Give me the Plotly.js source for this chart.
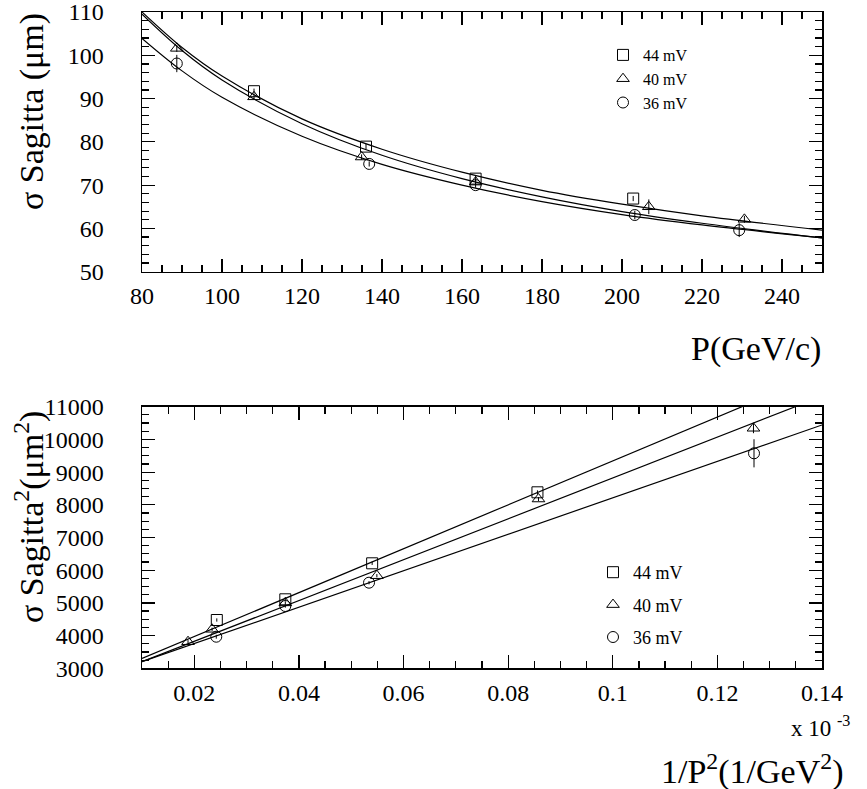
<!DOCTYPE html>
<html>
<head>
<meta charset="utf-8">
<script src="https://cdn.plot.ly/plotly-3.0.1.min.js"></script>
<style>html,body{margin:0;padding:0;background:#fff;}#plot{width:867px;height:789px;}</style>
</head>
<body>
<div id="plot"></div>
<script>
// ---- Top panel: sigma Sagitta vs P ----
const seriesNames = ['44 mV', '40 mV', '36 mV'];
const P44 = [108, 136, 163.4, 202.8];
const S44 = [91.7, 78.9, 71.5, 66.9];
const E44 = [0.6, 0.6, 0.6, 0.6];
const P40 = [88.7, 108, 134.9, 163.4, 206.7, 230.6];
const S40 = [101.6, 90.4, 76.5, 70.7, 65.0, 62.1];
const E40 = [0.8, 0.6, 0.6, 0.6, 1.7, 0.8];
const P36 = [88.7, 136.8, 163.4, 203.2, 229.3];
const S36 = [98.1, 74.9, 70.0, 63.1, 59.6];
const E36 = [2.0, 0.6, 0.6, 1.0, 1.6];
// fit curves
const curveP = [80, 90, 100, 120, 140, 160, 180, 200, 220, 250];
const curve44 = [110.0, 101.8, 95.2, 85.3, 78.3, 73.0, 68.8, 65.6, 62.9, 59.6];
const curve40 = [109.5, 101.1, 94.3, 84.2, 76.9, 71.5, 67.3, 63.9, 61.2, 57.8];
const curve36 = [103.9, 96.4, 90.3, 81.3, 74.8, 70.0, 66.2, 63.2, 60.8, 57.8];

// ---- Bottom panel: sigma Sagitta^2 vs 1/P^2 (x 10^-3) ----
const X44 = [0.0243, 0.0374, 0.0540, 0.0856];
const V44 = [4477, 5110, 6211, 8382];
const VE44 = [50, 50, 50, 60];
const X40 = [0.0188, 0.0234, 0.0374, 0.0549, 0.0858, 0.1269];
const V40 = [3813, 4193, 5000, 5832, 8177, 10340];
const VE40 = [50, 50, 50, 50, 60, 150];
const X36 = [0.0242, 0.0374, 0.0534, 0.1270];
const V36 = [3966, 4905, 5618, 9575];
const VE36 = [60, 50, 50, 430];
const lineX = [0.01, 0.14];
const line44 = [3300, 12027];
const line40 = [3200, 11319];
const line36 = [3200, 10441];

const FONT = '"Liberation Serif", "Times New Roman", Times, serif';
const black = '#000';

function pts(x, y, e, sym, name, xa, ya, leg, grp) {
  return {x: x, y: y, type: 'scatter', mode: 'markers', name: name,
    xaxis: xa, yaxis: ya, legend: leg, legendgroup: grp,
    marker: {symbol: sym, size: 11, color: black, line: {color: black, width: 1}},
    error_y: {type: 'data', array: e, visible: true, color: black, thickness: 1, width: 0},
    cliponaxis: true};
}
function ln(x, y, xa, ya, shape) {
  return {x: x, y: y, type: 'scatter', mode: 'lines', showlegend: false, hoverinfo: 'skip',
    xaxis: xa, yaxis: ya, line: {color: black, width: 1.2, shape: shape || 'linear', smoothing: 1}};
}

const data = [
  ln(curveP, curve44, 'x', 'y', 'spline'),
  ln(curveP, curve40, 'x', 'y', 'spline'),
  ln(curveP, curve36, 'x', 'y', 'spline'),
  pts(P44, S44, E44, 'square-open', seriesNames[0], 'x', 'y', 'legend', 'a'),
  pts(P40, S40, E40, 'triangle-up-open', seriesNames[1], 'x', 'y', 'legend', 'a'),
  pts(P36, S36, E36, 'circle-open', seriesNames[2], 'x', 'y', 'legend', 'a'),
  ln(lineX, line44, 'x2', 'y2'),
  ln(lineX, line40, 'x2', 'y2'),
  ln(lineX, line36, 'x2', 'y2'),
  pts(X44, V44, VE44, 'square-open', seriesNames[0], 'x2', 'y2', 'legend2', 'b1'),
  pts(X40, V40, VE40, 'triangle-up-open', seriesNames[1], 'x2', 'y2', 'legend2', 'b2'),
  pts(X36, V36, VE36, 'circle-open', seriesNames[2], 'x2', 'y2', 'legend2', 'b3')
];

const W = 867, H = 789;
const px = v => v / W, py = v => 1 - v / H;

function axis(extra) {
  return Object.assign({
    showgrid: false, zeroline: false, showline: true, linecolor: black, linewidth: 1.5,
    mirror: 'allticks', ticks: 'inside', ticklen: 13, tickwidth: 1.2, tickcolor: black,
    ticklabeloverflow: 'allow',
    tickfont: {family: FONT, size: 24, color: black}, fixedrange: true
  }, extra);
}

const layout = {
  width: W, height: H, margin: {l: 0, r: 0, t: 0, b: 0},
  paper_bgcolor: '#fff', plot_bgcolor: '#fff', font: {family: FONT, color: black},
  showlegend: true, hovermode: false,
  xaxis: axis({domain: [px(142), px(822)], anchor: 'y', range: [80, 250], tick0: 80, dtick: 20,
    ticklabelstandoff: 2,
    minor: {ticks: 'inside', dtick: 5, ticklen: 7, tickwidth: 1.2, tickcolor: black}}),
  yaxis: axis({domain: [py(271.7), py(12)], anchor: 'x', range: [50, 110], tick0: 50, dtick: 10,
    ticklabelstandoff: 32,
    minor: {ticks: 'inside', dtick: 2, ticklen: 7, tickwidth: 1.2, tickcolor: black}}),
  xaxis2: axis({domain: [px(142), px(822)], anchor: 'y2', range: [0.01, 0.14], tick0: 0, dtick: 0.02,
    ticklabelstandoff: 2,
    minor: {ticks: 'inside', dtick: 0.005, ticklen: 7, tickwidth: 1.2, tickcolor: black}}),
  yaxis2: axis({domain: [py(668.3), py(406.7)], anchor: 'x2', range: [3000, 11000], tick0: 3000, dtick: 1000,
    ticklabelstandoff: 32, tickformat: 'd', exponentformat: 'none',
    minor: {ticks: 'inside', dtick: 250, ticklen: 7, tickwidth: 1.2, tickcolor: black}}),
  legend: {x: px(603), y: py(38), xanchor: 'left', yanchor: 'top', bgcolor: 'rgba(0,0,0,0)',
    font: {family: FONT, size: 16, color: black}, itemsizing: 'trace', tracegroupgap: 0},
  legend2: {x: px(593), y: py(554), xanchor: 'left', yanchor: 'top', bgcolor: 'rgba(0,0,0,0)',
    font: {family: FONT, size: 18, color: black}, itemsizing: 'trace', tracegroupgap: 6},
  annotations: [
    {text: 'σ Sagitta (μm)', xref: 'paper', yref: 'paper', x: px(32), y: py(112),
      xanchor: 'center', yanchor: 'middle', textangle: -90, showarrow: false,
      font: {family: FONT, size: 34, color: black}},
    {text: 'σ Sagitta<sup>2</sup>(μm<sup>2</sup>)', xref: 'paper', yref: 'paper', x: px(29), y: py(517),
      xanchor: 'center', yanchor: 'middle', textangle: -90, showarrow: false,
      font: {family: FONT, size: 34, color: black}},
    {text: 'P(GeV/c)', xref: 'paper', yref: 'paper', x: px(823), y: py(349),
      xanchor: 'right', yanchor: 'middle', showarrow: false,
      font: {family: FONT, size: 34, color: black}},
    {text: 'x 10 <sup>-3</sup>', xref: 'paper', yref: 'paper', x: px(789), y: py(726),
      xanchor: 'left', yanchor: 'middle', showarrow: false,
      font: {family: FONT, size: 23, color: black}},
    {text: '1/P<sup>2</sup>(1/GeV<sup>2</sup>)', xref: 'paper', yref: 'paper', x: px(752), y: py(769),
      xanchor: 'center', yanchor: 'middle', showarrow: false,
      font: {family: FONT, size: 34, color: black}}
  ]
};

Plotly.newPlot('plot', data, layout, {displayModeBar: false, staticPlot: true});
</script>
</body>
</html>
